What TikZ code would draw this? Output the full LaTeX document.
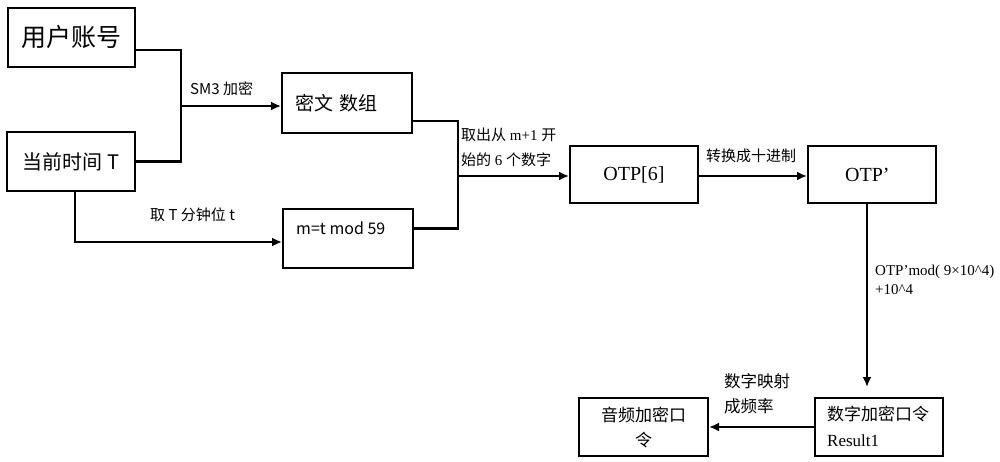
\documentclass[tikz,border=0pt]{standalone}
\usepackage{fontspec}
\setmainfont{Liberation Serif}
\newfontfamily\cjk{Noto Sans CJK SC}
\usetikzlibrary{arrows.meta,calc}
\begin{document}
\begin{tikzpicture}[x=1pt,y=-1pt,
  box/.style={draw,line width=2pt,rectangle,inner sep=0pt},
  lbl/.style={inner sep=0pt,align=left},
  conn/.style={line width=2.2pt},
  arr/.style={line width=2.2pt,-{Latex[length=10pt,width=9pt]}}]
\useasboundingbox (0,0) rectangle (1000,462);
% boxes
\node[box,minimum width=127,minimum height=59,font=\cjk\fontsize{25}{28}\selectfont] (ua) at (71.5,37.5) {用户账号};
\node[box,minimum width=128,minimum height=59,font=\cjk\fontsize{20}{24}\selectfont] (ct) at (71,161.5) {当前时间 T};
\node[box,minimum width=130,minimum height=60,text width=104,align=left,font=\cjk\fontsize{19}{22}\selectfont] (mw) at (347,103) {密文 数组};
\node[box,minimum width=130,minimum height=59] (mb) at (348,238.5) {};
\node[lbl,anchor=west,font=\cjk\fontsize{16}{19}\selectfont] (mbt) at (296,228) {m=t mod 59};
\node[box,minimum width=128,minimum height=57,font=\fontsize{20}{24}\selectfont] (o6) at (634,174.5) {OTP[6]};
\node[box,minimum width=128,minimum height=57] (op) at (872,174.5) {};
\node[lbl,anchor=west,font=\fontsize{20}{24}\selectfont] (opt) at (845,175) {OTP’};
\node[box,minimum width=128,minimum height=58] (rs) at (879,427) {};
\node[lbl,anchor=west,font=\cjk\fontsize{17}{20}\selectfont] (rst1) at (827,414) {数字加密口令};
\node[lbl,anchor=west,font=\fontsize{17}{20}\selectfont] (rst2) at (827,441) {Result1};
\node[box,minimum width=129,minimum height=58,align=center,font=\cjk\fontsize{17}{25}\selectfont] (au) at (643.5,427) {音频加密口\\令};
% junctions
\coordinate (j1) at (181,106);
\coordinate (j2) at (458,176);
% connectors
\draw[conn] ($(ua.east)+(0,12.5)$) -| (j1);
\draw[conn] (ct.east) -| (j1);
\draw[arr] (j1) -- (mw.west |- j1);
\draw[conn] ($(mw.east)+(0,18)$) -| (j2);
\draw[conn] ($(mb.east)+(0,-10)$) -| (j2);
\draw[arr] (j2) -- (o6.west |- j2);
\draw[arr] (o6.east |- j2) -- (op.west |- j2);
\draw[arr] ($(op.south)+(-5,0)$) -- ($(rs.north)+(-12,-10)$);
\draw[arr] (rs.west) -- (au.east);
\draw[arr] ($(ct.south)+(4,0)$) |- ($(mb.west)+(0,3.5)$);
% labels
\node[lbl,anchor=west,font=\cjk\fontsize{15}{17}\selectfont] (l1) at (190,89) {SM3 加密};
\node[lbl,anchor=west,font=\cjk\fontsize{15}{17}\selectfont] (l2) at (150,215) {取 T 分钟位 t};
\node[lbl,anchor=west,font=\fontsize{15}{25}\selectfont] (l3) at (461,147) {{\cjk 取出从} m+1 {\cjk 开}\\{\cjk 始的} 6 {\cjk 个数字}};
\node[lbl,anchor=west,font=\cjk\fontsize{15}{17}\selectfont] (l4) at (706,156) {转换成十进制};
\node[lbl,anchor=west,font=\fontsize{15}{19}\selectfont] (l5) at (875,280) {OTP’mod( 9×10\^{}4)\\+10\^{}4};
\node[lbl,anchor=west,font=\cjk\fontsize{16.5}{25}\selectfont] (l6) at (724,394) {数字映射\\成频率};
\end{tikzpicture}
\end{document}
